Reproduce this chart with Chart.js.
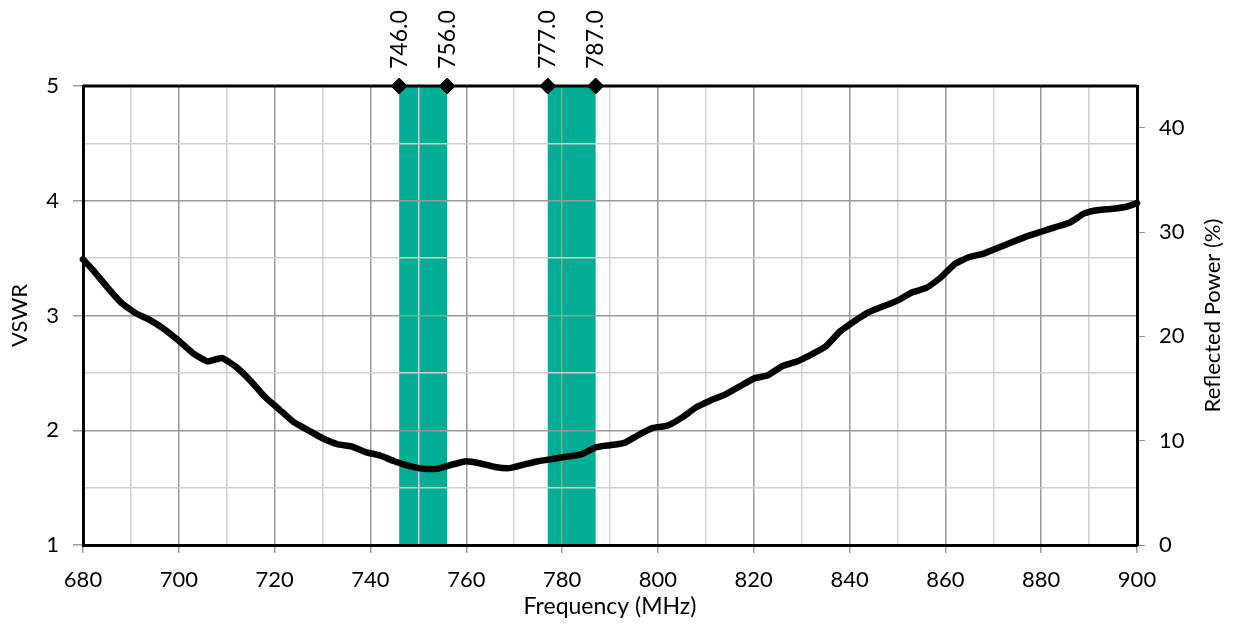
<!DOCTYPE html>
<html>
<head>
<meta charset="utf-8">
<script src="https://cdn.jsdelivr.net/npm/chart.js@4.4.1/dist/chart.umd.min.js"></script>
<style>
  html, body { margin: 0; padding: 0; background: #fff; }
  #wrap { width: 1236px; height: 624px; }
</style>
</head>
<body>
<div id="wrap"><canvas id="vswr"></canvas></div>
<script>
// frequency (MHz) and VSWR
const freq = [680, 682, 685, 688, 691, 694, 697, 700, 703, 706, 709, 712, 715, 718, 721, 724, 727, 730,
  733, 736, 739, 742, 745, 748, 751, 754, 757, 760, 763, 766, 769, 772, 775, 778, 781, 784, 787, 790,
  793, 796, 799, 802, 805, 808, 811, 814, 817, 820, 823, 826, 829, 832, 835, 838, 841, 844, 847, 850,
  853, 856, 859, 862, 865, 868, 871, 874, 877, 880, 883, 886, 889, 892, 895, 898, 900];
const vswr = [3.49, 3.40, 3.25, 3.11, 3.02, 2.96, 2.88, 2.78, 2.67, 2.60, 2.63, 2.55, 2.43, 2.29, 2.18, 2.07, 2.00, 1.93,
  1.88, 1.86, 1.81, 1.78, 1.73, 1.69, 1.665, 1.665, 1.70, 1.73, 1.71, 1.68, 1.67, 1.70, 1.73, 1.75, 1.77, 1.79, 1.85, 1.87,
  1.89, 1.96, 2.02, 2.04, 2.11, 2.20, 2.26, 2.31, 2.38, 2.45, 2.48, 2.56, 2.60, 2.66, 2.73, 2.86, 2.95, 3.03, 3.08, 3.13,
  3.20, 3.24, 3.33, 3.45, 3.51, 3.54, 3.59, 3.64, 3.69, 3.73, 3.77, 3.81, 3.89, 3.92, 3.93, 3.95, 3.98];

// highlighted bands (start/end MHz) and the marker labels on top
const bandStart = [746, 777];
const bandEnd = [756, 787];
const markerFreq = [746, 756, 777, 787];
const markerLabels = ['746.0', '756.0', '777.0', '787.0'];

const vswrTicks = [1, 2, 3, 4, 5];
const powerTicks = [0, 10, 20, 30, 40];

const FONT = 'Lato, "Open Sans", sans-serif';
const MAJOR = '#9a9a9a';
const MINOR = '#d0d0d0';
const TEAL = '#00ae94';

// bands go under the grid
const bandsPlugin = {
  id: 'bands',
  beforeDraw(chart) {
    const c = chart.ctx, x = chart.scales.x, a = chart.chartArea;
    c.save();
    c.fillStyle = TEAL;
    bandStart.forEach(function(s, i) {
      const x0 = x.getPixelForValue(s), x1 = x.getPixelForValue(bandEnd[i]);
      c.fillRect(x0, a.top, x1 - x0, a.bottom - a.top);
    });
    c.restore();
  },
  beforeDatasetsDraw(chart) {
    const c = chart.ctx, a = chart.chartArea;
    c.save();
    c.strokeStyle = '#000';
    c.lineWidth = 3;
    c.beginPath();
    c.moveTo(a.left, a.top);
    c.lineTo(a.right, a.top);
    c.stroke();
    c.restore();
  },
  afterDraw(chart) {
    const c = chart.ctx, x = chart.scales.x, a = chart.chartArea;
    c.save();
    c.fillStyle = '#000';
    c.font = '23px ' + FONT;
    c.textBaseline = 'middle';
    c.textAlign = 'left';
    markerFreq.forEach(function(f, i) {
      c.save();
      c.translate(x.getPixelForValue(f), a.top - 17);
      c.rotate(-Math.PI / 2);
      c.fillText(markerLabels[i], 0, 0);
      c.restore();
    });
    // right axis title, reading bottom to top
    c.font = '22px ' + FONT;
    c.save();
    c.translate(1213, (a.top + a.bottom) / 2);
    c.rotate(-Math.PI / 2);
    c.textAlign = 'center';
    c.fillText('Reflected Power (%)', 0, 0);
    c.restore();
    c.restore();
  }
};

new Chart(document.getElementById('vswr'), {
  type: 'line',
  data: {
    datasets: [
      {
        label: 'markers',
        type: 'scatter',
        data: markerFreq.map(function(f) { return { x: f, y: 5 }; }),
        pointStyle: 'rectRot',
        pointRadius: 8,
        backgroundColor: '#000',
        borderColor: '#000',
        clip: false,
        yAxisID: 'y'
      },
      {
        label: 'VSWR',
        data: freq.map(function(f, i) { return { x: f, y: vswr[i] }; }),
        borderColor: '#000',
        borderWidth: 6.5,
        pointRadius: 0,
        tension: 0.15,
        borderJoinStyle: 'round',
        borderCapStyle: 'round',
        clip: false,
        yAxisID: 'y'
      }
    ]
  },
  options: {
    responsive: true,
    maintainAspectRatio: false,
    animation: false,
    layout: { padding: { top: 86, left: 0, right: 0, bottom: 0 } },
    plugins: { legend: { display: false }, tooltip: { enabled: false } },
    scales: {
      x: {
        type: 'linear',
        min: 680,
        max: 900,
        afterFit: function(s) { s.height = 79; },
        ticks: {
          stepSize: 10,
          autoSkip: false,
          maxRotation: 0,
          padding: 14,
          color: '#000',
          font: { family: FONT, size: 22 },
          callback: function(v) { return v % 20 === 0 ? v : ''; }
        },
        grid: {
          color: function(ctx) { return ctx.tick && ctx.tick.value % 20 === 0 ? MAJOR : MINOR; },
          tickColor: function(ctx) { return ctx.tick && ctx.tick.value % 20 === 0 ? MAJOR : 'rgba(0,0,0,0)'; },
          tickLength: 8,
          lineWidth: 1.5
        },
        border: { color: '#000', width: 3 },
        title: {
          display: true,
          text: 'Frequency (MHz)',
          color: '#000',
          font: { family: FONT, size: 23 },
          padding: { top: 0, bottom: 4 }
        }
      },
      y: {
        position: 'left',
        min: 1,
        max: 5,
        afterFit: function(s) { s.width = 83; },
        afterBuildTicks: function(s) {
          s.ticks = [];
          for (let v = 1; v <= 5.001; v += 0.5) s.ticks.push({ value: v });
        },
        ticks: {
          padding: 14,
          color: '#000',
          font: { family: FONT, size: 22 },
          callback: function(v) { return vswrTicks.indexOf(v) >= 0 ? v : ''; }
        },
        grid: {
          color: function(ctx) { return ctx.tick && ctx.tick.value % 1 === 0 ? MAJOR : MINOR; },
          tickColor: function(ctx) { return ctx.tick && ctx.tick.value % 1 === 0 ? MAJOR : 'rgba(0,0,0,0)'; },
          tickLength: 10,
          lineWidth: 1.5
        },
        border: { color: '#000', width: 3 },
        title: {
          display: true,
          text: 'VSWR',
          color: '#000',
          font: { family: FONT, size: 22 },
          padding: { top: 7, bottom: 0 }
        }
      },
      y2: {
        position: 'right',
        min: 0,
        max: 44,
        afterFit: function(s) { s.width = 99; },
        afterBuildTicks: function(s) {
          s.ticks = powerTicks.map(function(v) { return { value: v }; });
        },
        ticks: {
          padding: 14,
          color: '#000',
          font: { family: FONT, size: 22 }
        },
        grid: {
          drawOnChartArea: false,
          tickColor: MAJOR,
          tickLength: 8
        },
        border: { color: '#000', width: 3 }
      }
    }
  },
  plugins: [bandsPlugin]
});
</script>
</body>
</html>
